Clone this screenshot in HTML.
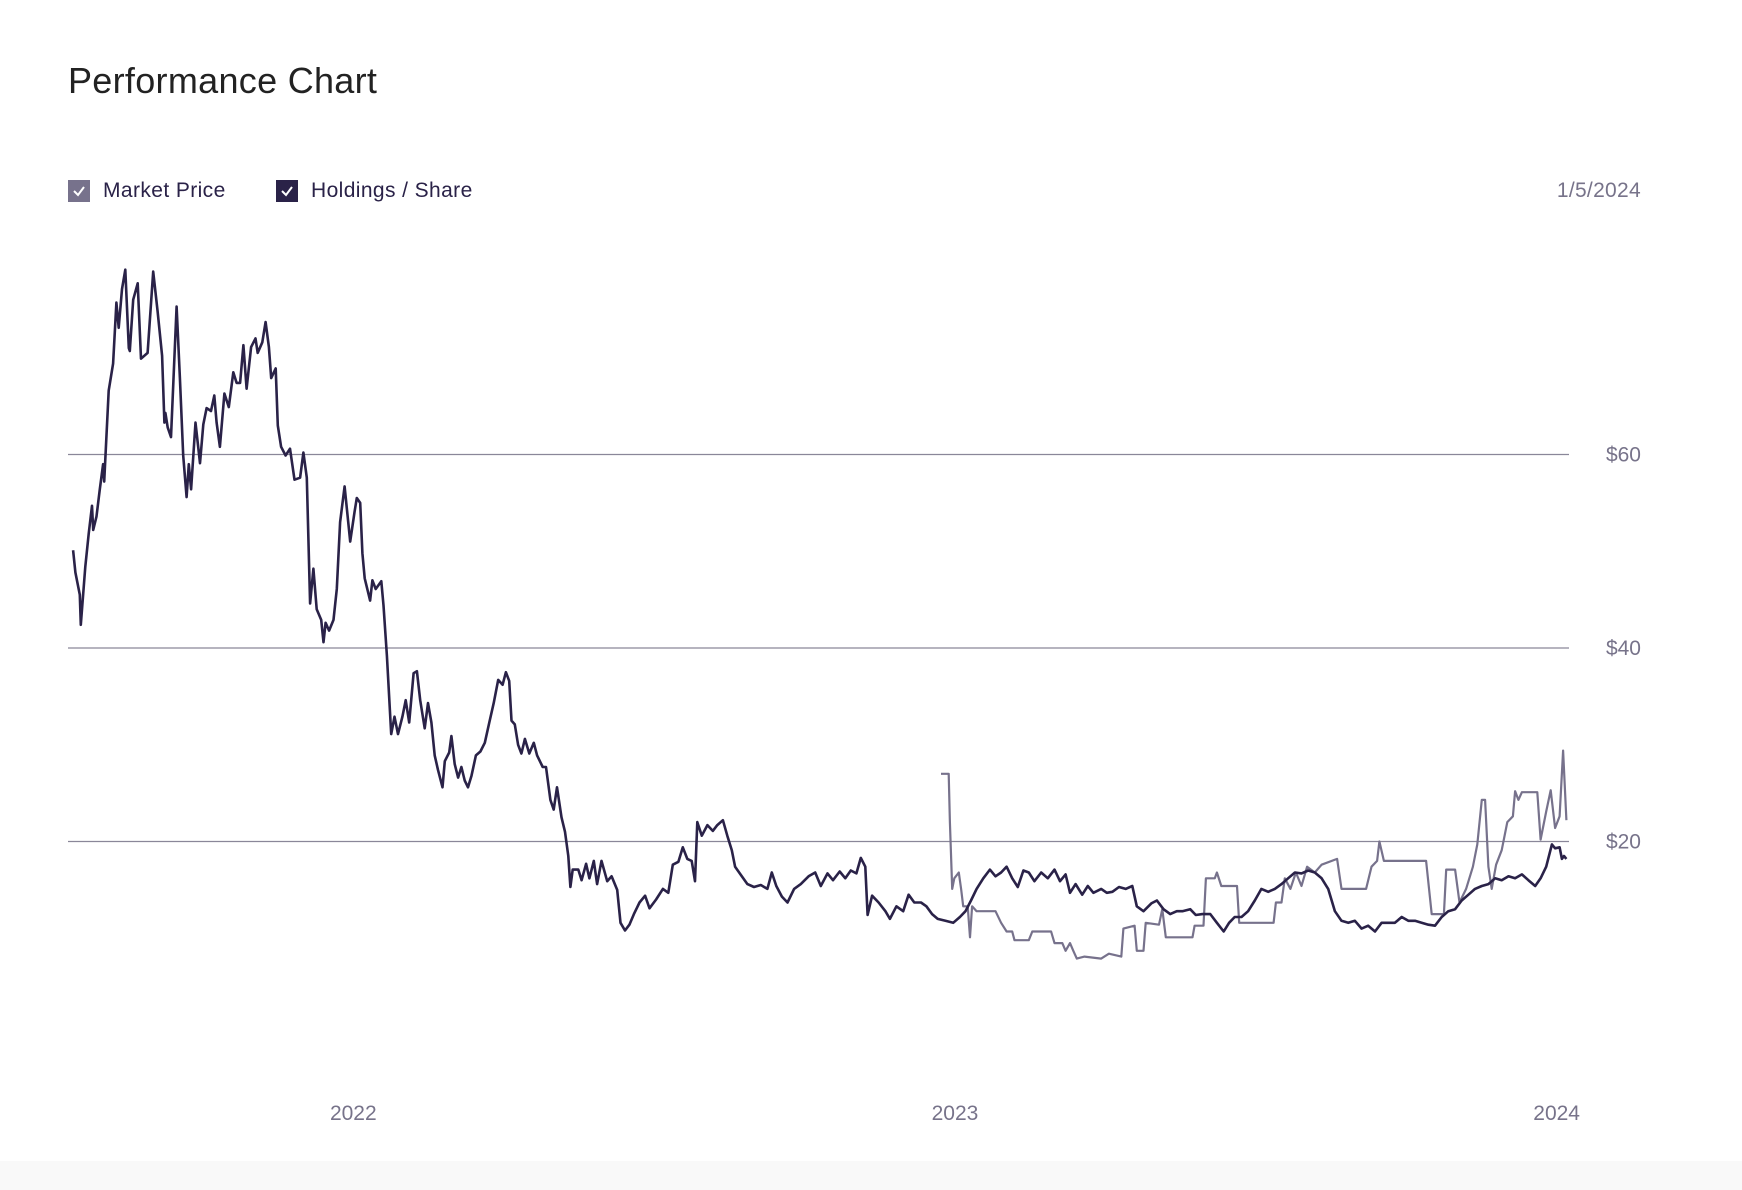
<!DOCTYPE html>
<html><head><meta charset="utf-8"><style>
html,body{margin:0;padding:0;background:#fff;}
body{width:1742px;height:1190px;position:relative;overflow:hidden;font-family:"Liberation Sans",sans-serif;}
.title{position:absolute;left:68px;top:60px;font-size:36px;color:#222;letter-spacing:0.3px;}
.leg{position:absolute;top:180px;height:22px;display:flex;align-items:center;font-size:21px;color:#2a2248;letter-spacing:0.4px;}
.box{width:22px;height:22px;margin-right:13px;display:flex;align-items:center;justify-content:center;}
.date{position:absolute;right:101px;top:179px;font-size:21px;color:#77738a;letter-spacing:0.3px;}
.band{position:absolute;left:0;top:1161px;width:1742px;height:29px;background:#f9f9f9;}
</style></head><body>
<div class="title">Performance Chart</div>
<div class="leg" style="left:68px"><div class="box" style="background:#77728c"><svg width="14" height="12"><path d="M2 6 L6 10 L12 2" stroke="#fff" stroke-width="2" fill="none"/></svg></div><span>Market Price</span></div>
<div class="leg" style="left:276px"><div class="box" style="background:#2a2248"><svg width="14" height="12"><path d="M2 6 L6 10 L12 2" stroke="#fff" stroke-width="2" fill="none"/></svg></div><span>Holdings / Share</span></div>
<div class="date">1/5/2024</div>
<div class="band"></div>
<svg id="chart" width="1742" height="1190" style="position:absolute;left:0;top:0"></svg>
<script>
// days since 2021-07-01
const holdingsDays=[14.0,15.4,18.1,18.7,21.4,23.5,25.5,26.2,28.2,30.2,32.2,32.9,35.6,38.3,40.3,41.7,43.7,45.7,47.8,48.4,50.5,53.2,55.2,59.2,62.6,65.3,68.0,69.4,70.0,71.4,73.4,76.8,78.8,80.8,82.9,84.2,85.6,88.3,91.0,93.0,95.0,97.7,99.7,101.1,103.1,105.8,108.5,111.2,113.2,115.3,117.3,119.3,122.0,124.7,126.0,128.8,130.8,132.8,134.2,136.9,138.2,140.2,142.9,145.6,148.3,151.7,153.7,155.8,157.8,159.8,161.8,164.5,165.9,167.2,169.3,172.0,174.0,176.0,178.7,182.1,184.8,186.1,188.2,189.5,190.9,194.2,195.6,197.6,201.0,202.3,204.4,207.0,209.0,211.1,213.8,215.8,217.9,220.6,222.6,224.6,227.3,229.3,231.4,233.4,235.4,238.1,239.5,242.2,243.5,245.5,247.6,249.6,251.6,253.6,255.7,258.4,261.1,263.8,266.5,269.2,271.9,274.6,276.6,278.6,280.0,282.0,284.0,286.0,288.1,290.8,293.5,295.5,298.9,300.9,303.6,305.6,307.6,310.3,312.4,314.4,315.7,317.1,320.5,322.5,325.2,327.2,329.9,331.9,334.6,338.0,340.7,344.1,346.1,348.8,351.5,354.2,357.6,361.0,363.7,367.7,371.8,375.1,377.8,381.2,383.9,386.6,389.3,391.3,392.7,395.4,398.8,402.1,404.8,408.2,410.9,413.6,415.6,419.7,423.1,427.1,431.2,435.2,437.9,440.6,444.0,447.4,451.4,455.5,460.2,464.2,467.6,471.7,475.0,479.1,482.5,485.8,489.2,491.9,494.6,496.0,498.7,502.7,506.8,509.5,513.5,517.6,520.9,524.3,528.4,531.7,535.1,538.5,543.2,547.9,552.0,555.4,558.7,562.1,566.2,570.2,573.6,577.0,580.3,583.7,587.1,590.5,593.8,597.2,601.3,605.3,609.4,612.7,616.1,618.8,622.2,626.2,629.6,633.0,637.7,641.1,644.5,648.5,652.6,656.6,659.3,663.4,668.1,671.5,675.5,679.6,683.6,687.0,691.7,695.1,699.1,703.9,707.9,712.0,715.3,718.7,722.8,726.8,730.9,734.9,739.0,743.0,747.1,751.1,755.2,759.2,763.3,767.3,771.4,775.4,779.5,783.5,787.6,791.6,795.7,799.7,803.8,807.8,811.9,815.9,820.0,824.0,828.1,832.1,836.2,840.2,844.3,848.3,852.4,856.4,860.5,864.5,868.6,872.6,876.7,880.7,884.8,888.8,892.9,896.9,901.0,904.3,907.7,911.1,913.1,915.8,917.2,918.5,919.9];
const holdingsValues=[50.1,47.8,45.5,42.4,48.4,51.8,54.7,52.2,53.6,56.4,59,57.2,66.6,69.4,75.7,73.1,77.1,79.1,71,70.7,76,77.7,69.9,70.5,78.9,74.8,70.2,63.3,64.3,62.8,61.8,75.3,67.9,59.9,55.6,59,56.4,63.3,59.1,63.1,64.8,64.5,66.1,63.3,60.8,66.3,64.9,68.5,67.4,67.4,71.3,66.8,71.1,72,70.5,71.6,73.7,71.1,67.9,68.9,63,60.8,59.9,60.6,57.4,57.6,60.2,57.6,44.6,48.2,44,42.9,40.6,42.6,41.8,42.9,46.1,53,56.7,51,54.1,55.5,55,49.8,47.2,44.9,47,46.1,46.9,44.4,39.2,31.1,32.9,31.1,32.9,34.6,32.3,37.4,37.6,34.6,31.7,34.3,32.3,28.9,27.4,25.6,28.3,29.2,30.9,28,26.6,27.7,26.3,25.6,26.8,28.9,29.3,30.2,32.3,34.3,36.7,36.2,37.5,36.6,32.5,32.1,30,29.1,30.6,29.1,30.2,28.9,27.7,27.7,24.3,23.3,25.6,22.5,21,18.5,15.3,17.1,17.1,16,17.7,16.2,18,15.6,18,15.9,16.4,15,11.6,10.8,11.4,12.5,13.7,14.4,13.1,14,15.1,14.7,17.6,17.9,19.4,18.2,18,15.9,22,20.6,21.7,21.1,21.7,22.2,20.6,19.1,17.4,16.4,15.6,15.3,15.5,15.1,16.8,15.4,14.3,13.7,15.1,15.6,16.4,16.8,15.4,16.7,16,16.9,16.2,17,16.7,18.3,17.4,12.4,14.4,13.7,12.8,12,13.3,12.8,14.5,13.7,13.7,13.3,12.5,12,11.8,11.6,12.2,12.8,13.9,15.1,16.2,17.1,16.4,16.8,17.4,16.2,15.3,17,16.8,15.9,16.8,16.2,17.1,15.9,16.6,14.7,15.6,14.5,15.4,14.7,15.1,14.7,14.8,15.3,15.1,15.4,13.3,12.8,13.6,13.9,13,12.5,12.8,12.8,13,12.4,12.5,12.5,11.6,10.7,11.6,12.2,12.2,12.8,13.9,15.1,14.8,15.1,15.6,16.2,16.8,16.7,17,16.8,16.2,15.1,12.8,11.8,11.6,11.8,11,11.3,10.7,11.6,11.6,11.6,12.2,11.8,11.8,11.6,11.4,11.3,12.2,12.8,13,13.9,14.5,15.1,15.4,15.6,16.2,16,16.4,16.2,16.6,16,15.4,16.2,17.4,19.7,19.3,19.4,18.2,18.5,18.2];
const marketDays=[540.5,545.2,545.9,547.3,548.6,551.3,552.7,554.0,556.7,558.1,559.4,562.1,573.6,577.0,580.3,583.7,585.1,593.8,595.9,607.3,609.4,614.1,616.1,618.8,620.8,622.9,627.6,637.7,642.4,649.9,651.2,658.0,659.3,663.4,664.7,672.8,674.8,676.9,693.1,694.4,699.8,701.2,706.6,707.9,710.6,720.1,721.4,742.3,743.7,747.1,749.1,752.5,755.8,759.2,762.6,767.3,771.4,780.8,783.5,798.4,801.7,805.1,806.5,809.2,834.8,838.2,845.6,847.0,852.4,855.1,859.1,863.2,865.9,868.6,870.6,872.6,874.6,877.3,880.7,884.1,887.5,888.8,890.8,892.9,902.3,904.3,907.7,910.4,913.1,915.8,917.9,919.9];
const marketValues=[27,27,22,15.1,16.2,16.8,15.1,13.3,13.3,10.1,13.3,12.8,12.8,11.6,10.7,10.7,9.8,9.8,10.7,10.7,9.5,9.5,8.7,9.5,8.7,7.9,8.1,7.9,8.4,8.1,11,11.3,8.7,8.7,11.6,11.4,13,10.1,10.1,11.3,11.3,16.2,16.2,16.8,15.4,15.4,11.6,11.6,13.7,13.7,16.2,15.1,16.8,15.4,17.4,16.8,17.6,18.2,15.1,15.1,17.4,18,20,18,18,12.5,12.5,17.1,17.1,13.7,15.1,17.4,19.7,24.3,24.3,17.4,15.1,17.6,19.1,22,22.6,25.2,24.3,25.1,25.1,20.2,23.1,25.3,21.4,22.6,29.4,22.2];
const yTicks=[20,40,60];
const xTickLabels=["2022","2023","2024"];
const xTickDays=[184,549,914];

const NS="http://www.w3.org/2000/svg";
const svg=document.getElementById('chart');
function xS(d){return 353.3+(d-184)*1.6484;}
function yS(v){return 1035-v*9.675;}
function mk(t,a){const e=document.createElementNS(NS,t);for(const k in a)e.setAttribute(k,a[k]);svg.appendChild(e);return e;}
yTicks.forEach(v=>{
  const l=mk('line',{x1:68,x2:1569,y1:yS(v),y2:yS(v),stroke:'#8a8799','stroke-width':1.3});
  
  
  const t=mk('text',{x:1641,y:yS(v)+7,'text-anchor':'end','font-size':21,fill:'#77738a','font-family':'Liberation Sans, sans-serif'});
  t.textContent='$'+v;
  
  
});
xTickLabels.forEach((s,i)=>{
  const t=mk('text',{x:xS(xTickDays[i]),y:1120,'text-anchor':'middle','font-size':21,fill:'#77738a','font-family':'Liberation Sans, sans-serif'});
  t.textContent=s;
  
  
});
function pts(ds,vs){return ds.map((d,i)=>xS(d).toFixed(1)+','+yS(vs[i]).toFixed(1)).join(' ');}
const mp=mk('polyline',{points:pts(marketDays,marketValues),fill:'none',stroke:'#77728c','stroke-width':2.2,'stroke-linejoin':'round'});


const hp=mk('polyline',{points:pts(holdingsDays,holdingsValues),fill:'none',stroke:'#2a2248','stroke-width':2.6,'stroke-linejoin':'round'});


</script>
</body></html>
